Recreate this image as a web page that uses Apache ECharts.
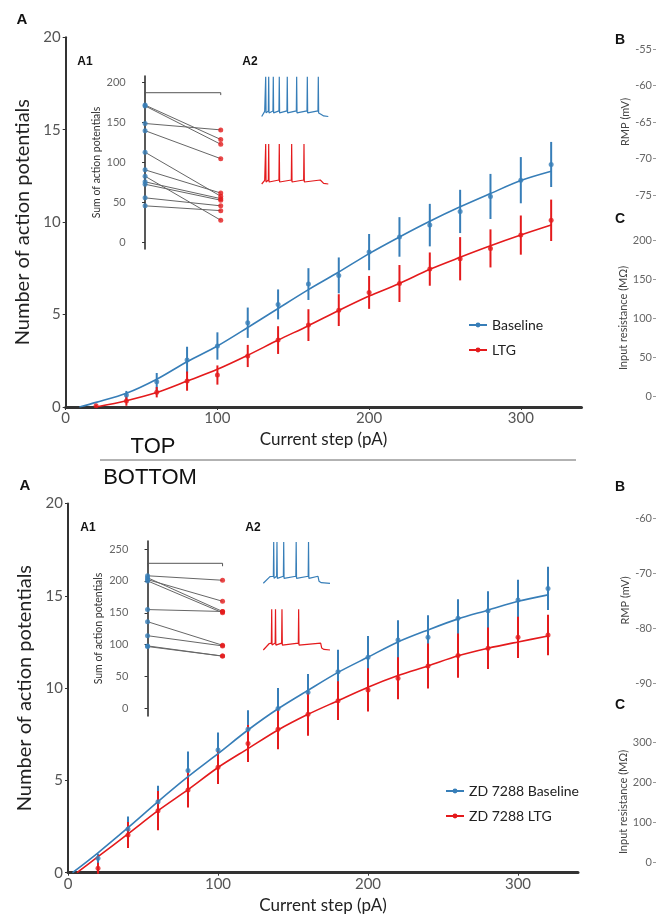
<!DOCTYPE html>
<html>
<head>
<meta charset="utf-8">
<script src="https://cdn.jsdelivr.net/npm/echarts@6/dist/echarts.min.js"></script>
<style>
html, body { margin: 0; padding: 0; background: #fff; }
#chart { width: 657px; height: 915px; }
</style>
</head>
<body>
<div id="chart"></div>
<script>
var BLUE = '#377eb8', RED = '#e41a1c';
var FF = 'Lato, "Open Sans", sans-serif';
var FB = '"Liberation Sans", Arial, sans-serif';

// current steps (pA)
var steps = [20, 40, 60, 80, 100, 120, 140, 160, 180, 200, 220, 240, 260, 280, 300, 320];
var xTicks = [0, 100, 200, 300];

// top panel: Baseline vs LTG (mean, sem)
var topBaseMean = [null, 0.65, 1.37, 2.54, 3.3, 4.56, 5.55, 6.65, 7.12, 8.38, 9.2, 9.84, 10.58, 11.39, 12.27, 13.12];
var topBaseSem  = [null, 0.22, 0.47, 0.72, 0.74, 0.82, 0.81, 0.86, 0.97, 0.98, 1.07, 1.15, 1.17, 1.22, 1.25, 1.22];
var topLtgMean  = [0.07, 0.32, 0.8, 1.4, 1.73, 2.76, 3.62, 4.43, 5.24, 6.2, 6.68, 7.46, 8.02, 8.58, 9.3, 10.1];
var topLtgSem   = [0.05, 0.25, 0.28, 0.52, 0.52, 0.6, 0.75, 0.86, 0.86, 0.89, 1.0, 0.9, 1.17, 1.03, 1.06, 1.12];
var topBaseFitX = [9, 20, 40, 60, 80, 100, 120, 140, 160, 180, 200, 220, 240, 260, 280, 300, 320];
var topBaseFit  = [0, 0.25, 0.74, 1.5, 2.45, 3.3, 4.3, 5.33, 6.35, 7.3, 8.3, 9.2, 10.05, 10.83, 11.55, 12.25, 12.75];
var topLtgFitX  = [20, 40, 60, 80, 100, 120, 140, 160, 180, 200, 220, 240, 260, 280, 300, 320];
var topLtgFit   = [0, 0.34, 0.78, 1.4, 2.04, 2.8, 3.62, 4.4, 5.22, 6.0, 6.68, 7.45, 8.1, 8.72, 9.3, 9.84];

// bottom panel: ZD 7288 Baseline vs ZD 7288 LTG
var botBaseMean = [0.78, 2.37, 3.85, 5.53, 6.65, 7.77, 8.9, 9.77, 10.89, 11.67, 12.6, 12.75, 13.78, 14.19, 14.77, 15.4];
var botBaseSem  = [0.25, 0.68, 0.86, 1.03, 0.95, 1.03, 1.1, 1.0, 1.19, 1.15, 1.07, 1.19, 1.03, 1.05, 1.1, 1.17];
var botLtgMean  = [0.24, 2.04, 3.36, 4.48, 5.71, 7.0, 7.77, 8.58, 9.32, 9.9, 10.53, 11.2, 11.76, 12.16, 12.75, 12.88];
var botLtgSem   = [0.3, 0.7, 1.06, 0.95, 0.9, 1.0, 1.08, 1.16, 1.05, 1.17, 1.14, 1.22, 1.2, 1.12, 1.12, 1.1];
var botBaseFitX = [3, 20, 40, 60, 80, 100, 120, 140, 160, 180, 200, 220, 240, 260, 280, 300, 320];
var botBaseFit  = [0, 1.08, 2.44, 3.85, 5.2, 6.45, 7.73, 8.88, 9.88, 10.85, 11.68, 12.5, 13.15, 13.75, 14.22, 14.7, 15.05];
var botLtgFitX  = [6, 20, 40, 60, 80, 100, 120, 140, 160, 180, 200, 220, 240, 260, 280, 300, 320];
var botLtgFit   = [0, 0.87, 2.1, 3.36, 4.5, 5.7, 6.72, 7.73, 8.58, 9.32, 10.05, 10.68, 11.2, 11.75, 12.16, 12.5, 12.82];

// insets A1: sum of action potentials per cell (baseline -> LTG)
var topPairBase = [172, 171, 149, 140, 113, 91, 83, 76, 73, 56, 46];
var topPairLtg  = [129, 123, 141, 105, 58, 62, 28, 55, 53, 46, 40];
var botPairBase = [208, 205, 202, 200, 155, 136, 114, 98, 97];
var botPairLtg  = [201, 152, 168, 150, 152, 99, 98, 82, 82];
var topBracket = [184.5, 187.5], topStars = '***';
var botBracket = [223, 227.6], botStars = '**';
var insetTicks = { top: [0, 50, 100, 150, 200], bot: [0, 50, 100, 150, 200, 250] };

// insets A2: example traces (time 0-100, mV)
var topBaseSpikes = [6, 10.5, 17.4, 26.4, 38.4, 52.5, 68.5, 85];
var topLtgSpikes  = [6, 10.5, 26.4, 45, 63.5];
var botBaseSpikes = [15.6, 20.5, 30.6, 49.3, 67.8];
var botLtgSpikes  = [12.6, 18.3, 28, 53];
var traceRest = -70, tracePeak = 30;
var topPlateau = [-56, -60], botPlateau = [-53, -53];
var topStepOff = 88, botStepOff = [82, 86];

function zip(xs, ys) {
    return xs.map(function (x, i) { return [x, ys[i]]; });
}
function errData(mean, sem) {
    var out = [];
    steps.forEach(function (x, i) {
        if (mean[i] != null) out.push([x, mean[i] - sem[i], mean[i] + sem[i]]);
    });
    return out;
}
function meanData(mean) {
    var out = [];
    steps.forEach(function (x, i) { if (mean[i] != null) out.push([x, mean[i]]); });
    return out;
}
function buildTrace(spikes, plateau, on, rise, off) {
    var pts = [[0, traceRest], [on, traceRest + 1], [on + rise, plateau - 1]];
    spikes.forEach(function (t) {
        pts.push([t - 0.5, plateau], [t, tracePeak], [t + 0.5, plateau - 5], [t + 1.8, plateau - 1]);
    });
    pts.push([off, plateau], [off + 1.5, traceRest + 5], [off + 5, traceRest + 1.5], [100, traceRest]);
    return pts;
}
var errRender = function (params, api) {
    var p1 = api.coord([api.value(0), api.value(1)]);
    var p2 = api.coord([api.value(0), api.value(2)]);
    return {
        type: 'line',
        shape: { x1: p1[0], y1: p1[1], x2: p2[0], y2: p2[1] },
        style: { stroke: api.visual('color'), lineWidth: 2 }
    };
};

// layout of the panels
var grids = [
    { left: 65.7, top: 37.3, width: 515.8, height: 369.7 },   // 0 top main
    { left: 68, top: 503.5, width: 510, height: 369.2 },      // 1 bottom main
    { left: 130.7, top: 76, width: 101.4, height: 173 },      // 2 top inset A1
    { left: 133.3, top: 541, width: 100.5, height: 175 },     // 3 bottom inset A1
    { left: 261.7, top: 76.7, width: 66.6, height: 39.8 },    // 4 top trace blue
    { left: 261.7, top: 144, width: 66.6, height: 40 },       // 5 top trace red
    { left: 263.3, top: 542, width: 66.7, height: 41.3 },     // 6 bottom trace blue
    { left: 263.3, top: 609.3, width: 66.7, height: 40.7 },   // 7 bottom trace red
    { left: 656, top: 49, width: 20, height: 146 },           // 8 top B
    { left: 656, top: 240, width: 20, height: 156 },          // 9 top C
    { left: 656, top: 518, width: 20, height: 165 },          // 10 bottom B
    { left: 656, top: 742, width: 20, height: 120 }           // 11 bottom C
];

var mainX = function (gi) {
    return {
        gridIndex: gi, type: 'value', min: 0, max: 340,
        name: 'Current step (pA)', nameLocation: 'middle', nameGap: 24,
        nameTextStyle: { fontFamily: FF, fontSize: 17, color: '#222' },
        axisLine: { lineStyle: { color: '#333', width: 3 } },
        axisTick: { length: 3, customValues: xTicks, lineStyle: { color: '#333' } },
        axisLabel: { fontFamily: FF, fontSize: 15, color: '#555', margin: 4, customValues: xTicks },
        splitLine: { show: false }
    };
};
var mainY = function (gi, gap) {
    return {
        gridIndex: gi, type: 'value', min: 0, max: 20, interval: 5,
        name: 'Number of action potentials', nameLocation: 'middle', nameGap: gap,
        nameTextStyle: { fontFamily: FF, fontSize: 20, color: '#222' },
        axisLine: { show: true, lineStyle: { color: '#333', width: 2 } },
        axisTick: { show: true, length: 3, lineStyle: { color: '#333' } },
        axisLabel: { fontFamily: FF, fontSize: 15, color: '#555', margin: 5 },
        splitLine: { show: false }
    };
};
var insetY = function (gi, min, max, ticks) {
    return {
        gridIndex: gi, type: 'value', min: min, max: max,
        name: 'Sum of action potentials', nameLocation: 'middle', nameGap: 29,
        nameTextStyle: { fontFamily: FF, fontSize: 10.5, color: '#333' },
        axisLine: { show: true, lineStyle: { color: '#222', width: 1.5 } },
        axisTick: { show: true, length: 3, customValues: ticks, lineStyle: { color: '#333' } },
        axisLabel: { fontFamily: FF, fontSize: 11, color: '#666', margin: 5, customValues: ticks },
        splitLine: { show: false }
    };
};
var hiddenX = function (gi, min, max) {
    return { gridIndex: gi, type: 'value', min: min, max: max, show: false };
};
var hiddenY = function (gi, min, max) {
    return { gridIndex: gi, type: 'value', min: min, max: max, show: false };
};
var sideY = function (gi, name, min, max, interval) {
    return {
        gridIndex: gi, type: 'value', min: min, max: max, interval: interval,
        name: name, nameLocation: 'middle', nameGap: 24,
        nameTextStyle: { fontFamily: FF, fontSize: 11, color: '#444' },
        axisLine: { show: false },
        axisTick: { show: true, length: 3, lineStyle: { color: '#999' } },
        axisLabel: { fontFamily: FF, fontSize: 11, color: '#666', margin: 4 },
        splitLine: { show: false }
    };
};

var xAxes = [
    mainX(0), mainX(1),
    hiddenX(2, -0.19, 1.15), hiddenX(3, -0.19, 1.15),
    hiddenX(4, 0, 100), hiddenX(5, 0, 100), hiddenX(6, 0, 100), hiddenX(7, 0, 100),
    hiddenX(8, 0, 1), hiddenX(9, 0, 1), hiddenX(10, 0, 1), hiddenX(11, 0, 1)
];
var yAxes = [
    mainY(0, 19), mainY(1, 26),
    insetY(2, -8, 208.4, insetTicks.top), insetY(3, -12, 262.6, insetTicks.bot),
    hiddenY(4, -70, 30), hiddenY(5, -70, 30), hiddenY(6, -70, 30), hiddenY(7, -70, 30),
    sideY(8, 'RMP (mV)', -75, -55, 5), sideY(9, 'Input resistance (MΩ)', 0, 200, 50),
    sideY(10, 'RMP (mV)', -90, -60, 10), sideY(11, 'Input resistance (MΩ)', 0, 300, 100)
];

var series = [];
function addMain(ax, nameBase, nameLtg, bm, bs, lm, ls, bfx, bf, lfx, lf) {
    series.push(
        { type: 'custom', xAxisIndex: ax, yAxisIndex: ax, renderItem: errRender, itemStyle: { color: BLUE },
          encode: { x: 0, y: [1, 2] }, data: errData(bm, bs), silent: true, z: 2 },
        { type: 'custom', xAxisIndex: ax, yAxisIndex: ax, renderItem: errRender, itemStyle: { color: RED },
          encode: { x: 0, y: [1, 2] }, data: errData(lm, ls), silent: true, z: 3 },
        { name: nameBase, type: 'line', xAxisIndex: ax, yAxisIndex: ax, data: zip(bfx, bf), smooth: 0.3,
          symbol: 'circle', symbolSize: 5, showSymbol: false, itemStyle: { color: BLUE },
          lineStyle: { color: BLUE, width: 1.6 }, z: 4 },
        { name: nameLtg, type: 'line', xAxisIndex: ax, yAxisIndex: ax, data: zip(lfx, lf), smooth: 0.3,
          symbol: 'circle', symbolSize: 5, showSymbol: false, itemStyle: { color: RED },
          lineStyle: { color: RED, width: 1.6 }, z: 4 },
        { type: 'scatter', xAxisIndex: ax, yAxisIndex: ax, data: meanData(bm), symbolSize: 5,
          itemStyle: { color: BLUE }, z: 5 },
        { type: 'scatter', xAxisIndex: ax, yAxisIndex: ax, data: meanData(lm), symbolSize: 5,
          itemStyle: { color: RED }, z: 5 }
    );
}
addMain(0, 'Baseline', 'LTG', topBaseMean, topBaseSem, topLtgMean, topLtgSem,
        topBaseFitX, topBaseFit, topLtgFitX, topLtgFit);
addMain(1, 'ZD 7288 Baseline', 'ZD 7288 LTG', botBaseMean, botBaseSem, botLtgMean, botLtgSem,
        botBaseFitX, botBaseFit, botLtgFitX, botLtgFit);

function addInset(ax, base, ltg, bracket, stars) {
    series.push(
        { type: 'lines', coordinateSystem: 'cartesian2d', xAxisIndex: ax, yAxisIndex: ax,
          data: base.map(function (b, i) { return { coords: [[0, b], [1, ltg[i]]] }; }),
          lineStyle: { color: '#666', width: 1, opacity: 1 }, z: 2 },
        { type: 'scatter', xAxisIndex: ax, yAxisIndex: ax, symbolSize: 5,
          data: base.map(function (b) { return [0, b]; }), itemStyle: { color: BLUE }, z: 3 },
        { type: 'scatter', xAxisIndex: ax, yAxisIndex: ax, symbolSize: 5,
          data: ltg.map(function (l) { return [1, l]; }), itemStyle: { color: RED }, z: 3 },
        { type: 'line', xAxisIndex: ax, yAxisIndex: ax, symbol: 'none', clip: false,
          data: [[0, bracket[0]], [0, bracket[1]], [1, bracket[1]], [1, bracket[0]]],
          lineStyle: { color: '#555', width: 1 } },
        { type: 'scatter', xAxisIndex: ax, yAxisIndex: ax, symbol: 'none',
          data: [[0.5, bracket[1]]],
          label: { show: true, position: 'top', distance: 1, formatter: stars,
                   fontFamily: FF, fontSize: 9, color: '#333' } }
    );
}
addInset(2, topPairBase, topPairLtg, topBracket, topStars);
addInset(3, botPairBase, botPairLtg, botBracket, botStars);

function addTrace(ax, pts, color) {
    series.push({ type: 'line', xAxisIndex: ax, yAxisIndex: ax, data: pts, symbol: 'none', clip: false,
                  lineStyle: { color: color, width: 1.2 } });
}
addTrace(4, buildTrace(topBaseSpikes, topPlateau[0], 1.5, 3, topStepOff), BLUE);
addTrace(5, buildTrace(topLtgSpikes, topPlateau[1], 1.5, 3, topStepOff), RED);
addTrace(6, buildTrace(botBaseSpikes, botPlateau[0], 2, 8, botStepOff[0]), BLUE);
addTrace(7, buildTrace(botLtgSpikes, botPlateau[1], 2, 7, botStepOff[1]), RED);

for (var g = 8; g <= 11; g++) {
    series.push({ type: 'scatter', xAxisIndex: g, yAxisIndex: g, data: [] });
}

function txt(x, y, s, font, align) {
    return { type: 'text', style: { x: x, y: y, text: s, font: font, fill: '#111',
             textAlign: align || 'center', textVerticalAlign: 'middle' } };
}

var chart = echarts.init(document.getElementById('chart'));
chart.setOption({
    animation: false,
    backgroundColor: '#fff',
    grid: grids,
    xAxis: xAxes,
    yAxis: yAxes,
    legend: [
        { data: ['Baseline', 'LTG'], left: 463, top: 313, orient: 'vertical', itemWidth: 18, itemHeight: 6,
          itemGap: 11, textStyle: { fontFamily: FF, fontSize: 14, color: '#222' } },
        { data: ['ZD 7288 Baseline', 'ZD 7288 LTG'], left: 440, top: 779, orient: 'vertical', itemWidth: 18,
          itemHeight: 6, itemGap: 11, textStyle: { fontFamily: FF, fontSize: 14, color: '#222' } }
    ],
    graphic: [
        txt(22, 20, 'A', 'bold 15px ' + FB),
        txt(85, 62, 'A1', 'bold 12px ' + FB),
        txt(250, 62, 'A2', 'bold 12px ' + FB),
        txt(25, 486, 'A', 'bold 15px ' + FB),
        txt(88, 528, 'A1', 'bold 12px ' + FB),
        txt(253, 528, 'A2', 'bold 12px ' + FB),
        txt(153, 447, 'TOP', '22px ' + FB),
        txt(150, 478, 'BOTTOM', '22px ' + FB),
        { type: 'line', shape: { x1: 100, y1: 460, x2: 576, y2: 460 }, style: { stroke: '#666', lineWidth: 1 } },
        txt(620, 40, 'B', 'bold 14px ' + FB),
        txt(620, 219, 'C', 'bold 14px ' + FB),
        txt(620, 487, 'B', 'bold 14px ' + FB),
        txt(620, 705, 'C', 'bold 14px ' + FB)
    ],
    series: series
});
</script>
</body>
</html>
